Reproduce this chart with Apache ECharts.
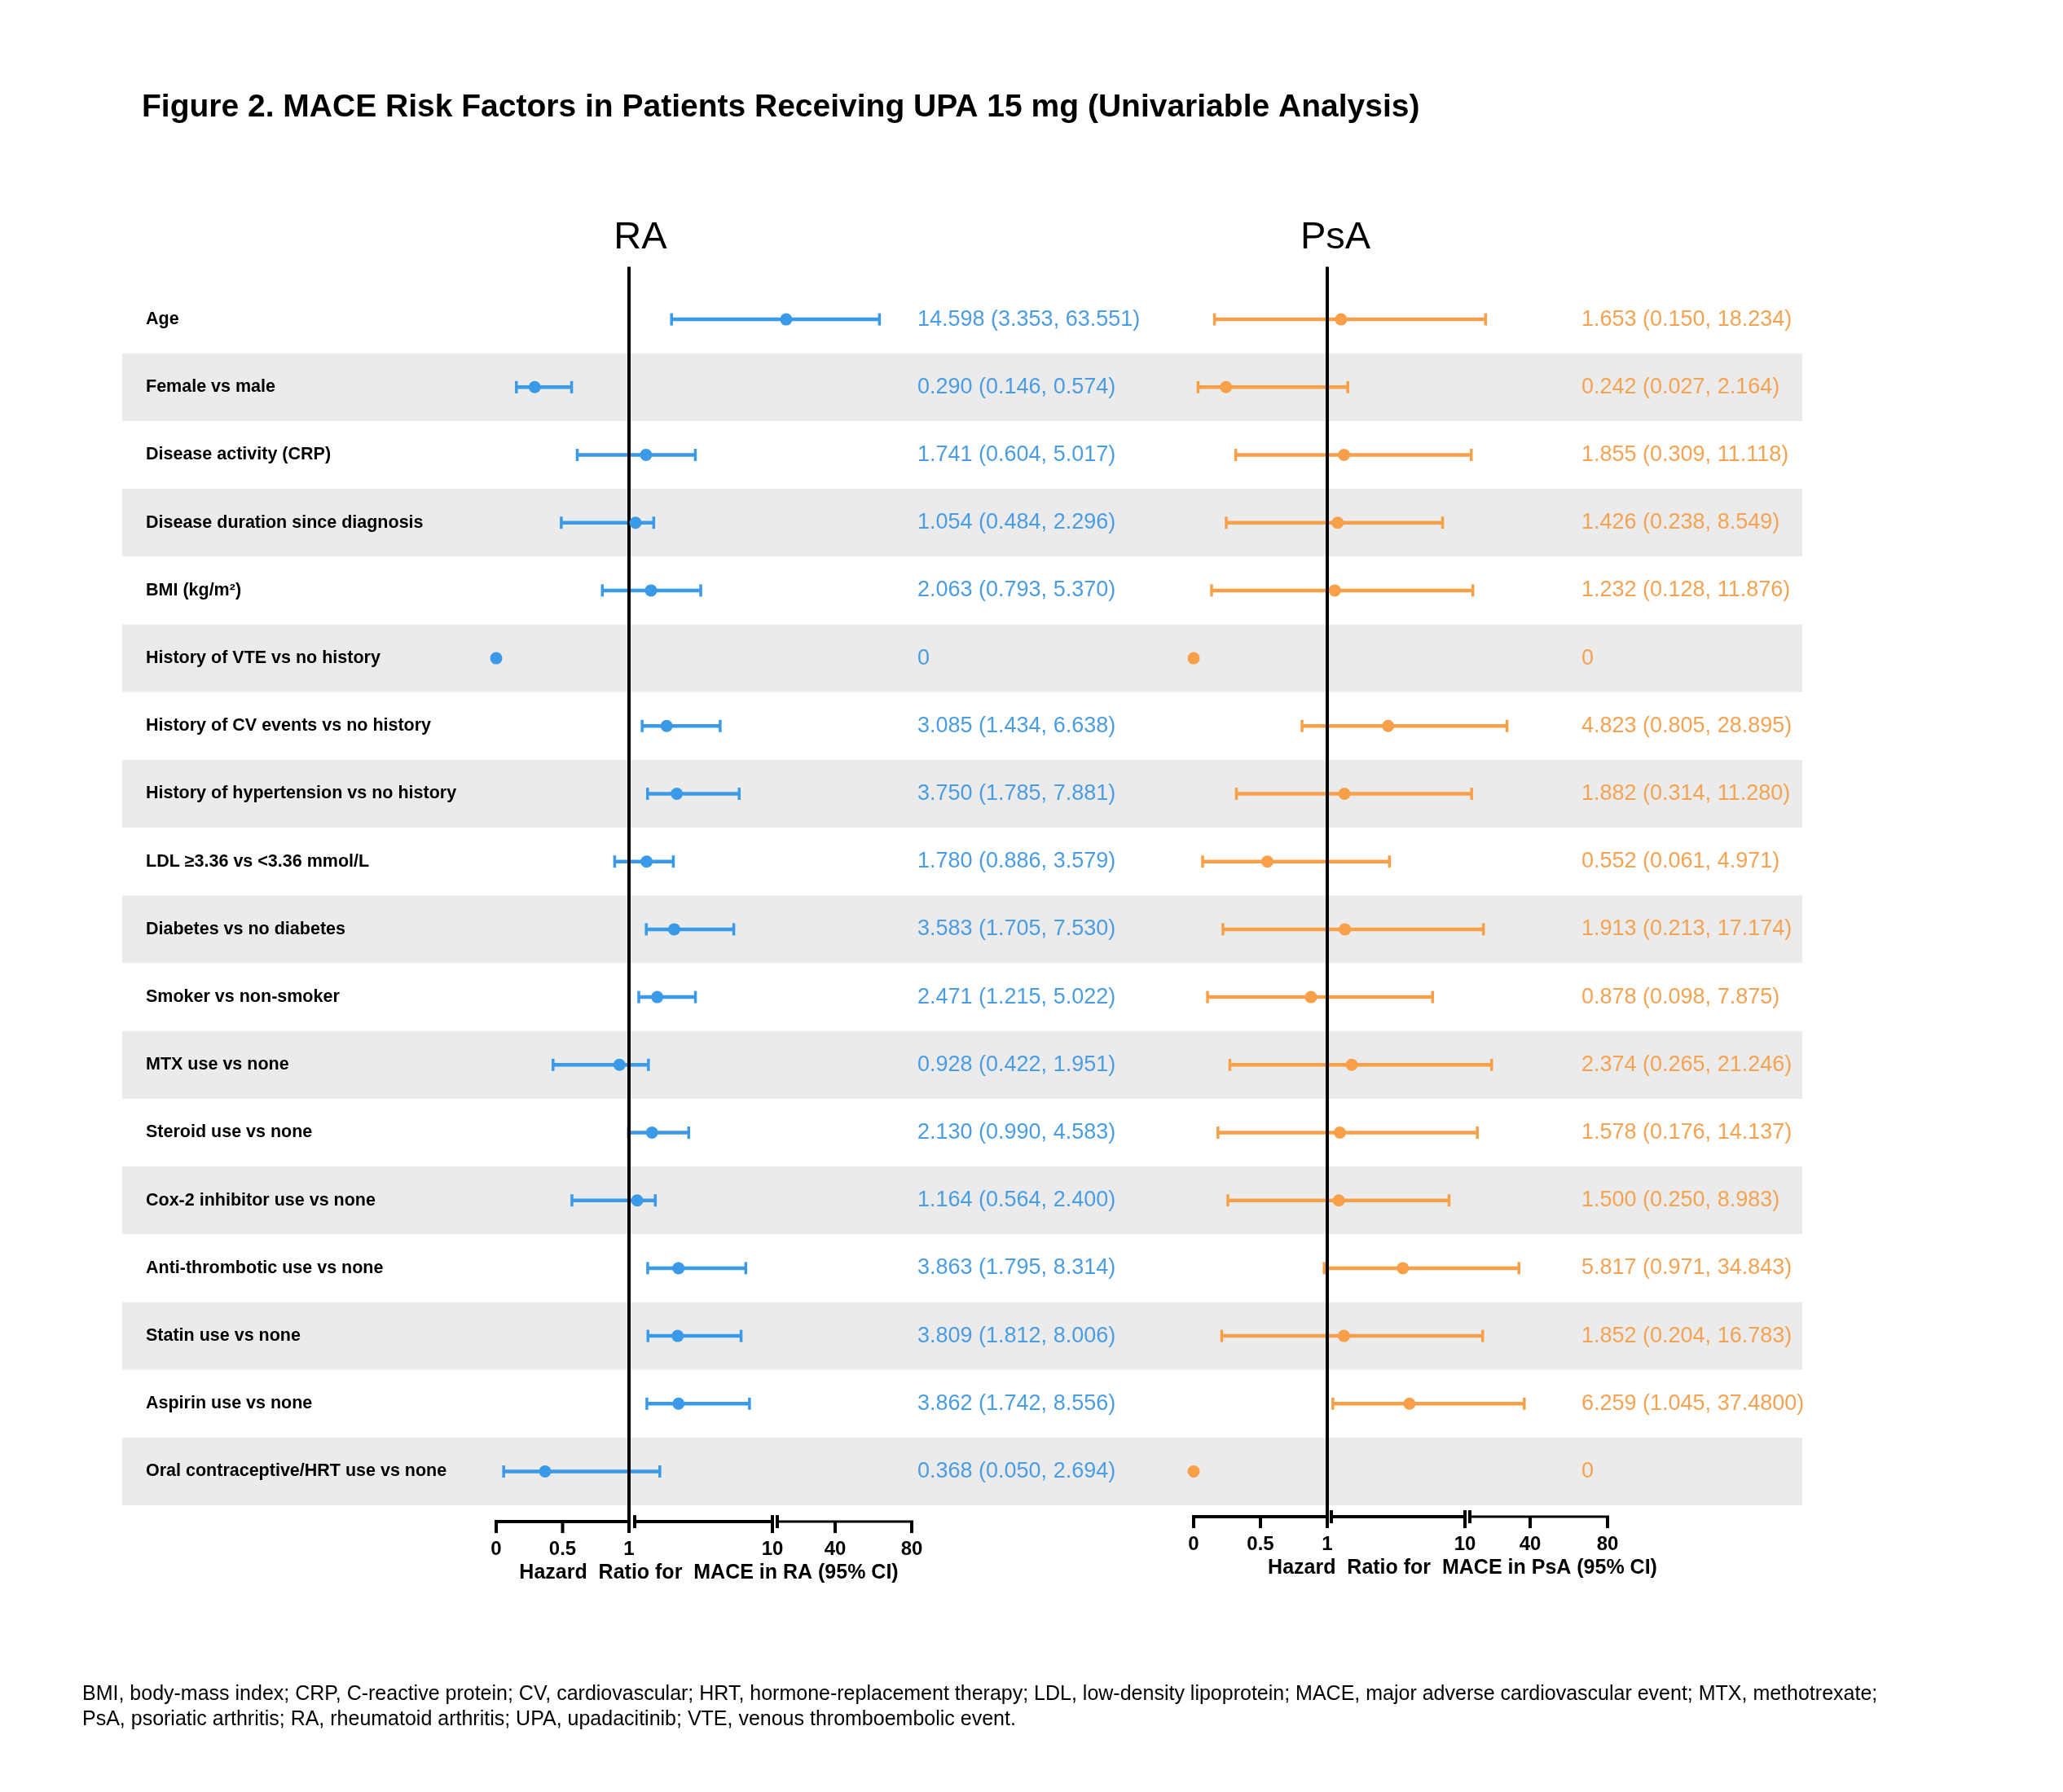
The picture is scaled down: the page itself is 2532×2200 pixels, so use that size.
<!DOCTYPE html>
<html><head><meta charset="utf-8">
<script src="https://cdn.jsdelivr.net/npm/echarts@6/dist/echarts.min.js"></script>
<style>html,body{margin:0;padding:0;background:#fff}#c{width:2532px;height:2200px}</style>
</head><body><div id="c"></div>
<script>
// ---------------- data ----------------
const rowLabels = [
  'Age', 'Female vs male', 'Disease activity (CRP)', 'Disease duration since diagnosis',
  'BMI (kg/m²)', 'History of VTE vs no history', 'History of CV events vs no history',
  'History of hypertension vs no history', 'LDL ≥3.36 vs <3.36 mmol/L', 'Diabetes vs no diabetes',
  'Smoker vs non-smoker', 'MTX use vs none', 'Steroid use vs none', 'Cox-2 inhibitor use vs none',
  'Anti-thrombotic use vs none', 'Statin use vs none', 'Aspirin use vs none',
  'Oral contraceptive/HRT use vs none'
];
const raHR   = [14.598, 0.290, 1.741, 1.054, 2.063, 0, 3.085, 3.750, 1.780, 3.583, 2.471, 0.928, 2.130, 1.164, 3.863, 3.809, 3.862, 0.368];
const raLow  = [3.353, 0.146, 0.604, 0.484, 0.793, null, 1.434, 1.785, 0.886, 1.705, 1.215, 0.422, 0.990, 0.564, 1.795, 1.812, 1.742, 0.050];
const raHigh = [63.551, 0.574, 5.017, 2.296, 5.370, null, 6.638, 7.881, 3.579, 7.530, 5.022, 1.951, 4.583, 2.400, 8.314, 8.006, 8.556, 2.694];
const psaHR   = [1.653, 0.242, 1.855, 1.426, 1.232, 0, 4.823, 1.882, 0.552, 1.913, 0.878, 2.374, 1.578, 1.500, 5.817, 1.852, 6.259, 0];
const psaLow  = [0.150, 0.027, 0.309, 0.238, 0.128, null, 0.805, 0.314, 0.061, 0.213, 0.098, 0.265, 0.176, 0.250, 0.971, 0.204, 1.045, null];
const psaHigh = [18.234, 2.164, 11.118, 8.549, 11.876, null, 28.895, 11.280, 4.971, 17.174, 7.875, 21.246, 14.137, 8.983, 34.843, 16.783, 37.480, null];
const raText = [
  '14.598 (3.353, 63.551)', '0.290 (0.146, 0.574)', '1.741 (0.604, 5.017)', '1.054 (0.484, 2.296)',
  '2.063 (0.793, 5.370)', '0', '3.085 (1.434, 6.638)', '3.750 (1.785, 7.881)', '1.780 (0.886, 3.579)',
  '3.583 (1.705, 7.530)', '2.471 (1.215, 5.022)', '0.928 (0.422, 1.951)', '2.130 (0.990, 4.583)',
  '1.164 (0.564, 2.400)', '3.863 (1.795, 8.314)', '3.809 (1.812, 8.006)', '3.862 (1.742, 8.556)',
  '0.368 (0.050, 2.694)'
];
const psaText = [
  '1.653 (0.150, 18.234)', '0.242 (0.027, 2.164)', '1.855 (0.309, 11.118)', '1.426 (0.238, 8.549)',
  '1.232 (0.128, 11.876)', '0', '4.823 (0.805, 28.895)', '1.882 (0.314, 11.280)', '0.552 (0.061, 4.971)',
  '1.913 (0.213, 17.174)', '0.878 (0.098, 7.875)', '2.374 (0.265, 21.246)', '1.578 (0.176, 14.137)',
  '1.500 (0.250, 8.983)', '5.817 (0.971, 34.843)', '1.852 (0.204, 16.783)', '6.259 (1.045, 37.4800)',
  '0'
];
const tickValues = [0, 0.5, 1, 10, 40, 80];
const tickLabels = ['0', '0.5', '1', '10', '40', '80'];
const titleText = 'Figure 2. MACE Risk Factors in Patients Receiving UPA 15 mg (Univariable Analysis)';
const footText = 'BMI, body-mass index; CRP, C-reactive protein; CV, cardiovascular; HRT, hormone-replacement therapy; LDL, low-density lipoprotein; MACE, major adverse cardiovascular event; MTX, methotrexate;\nPsA, psoriatic arthritis; RA, rheumatoid arthritis; UPA, upadacitinib; VTE, venous thromboembolic event.';

// ---------------- broken-axis scale (piecewise) ----------------
// axis units for knots: [0, 1 | 1, 10 | 10, 40, 80]
const raKnots  = [0, 163, 170, 339, 345, 416, 510];
const psaKnots = [0, 164, 169, 333, 339, 413, 508];
function T(v, k) {
  if (v <= 1) return k[0] + v * (k[1] - k[0]);
  if (v <= 10) return k[2] + (v - 1) / 9 * (k[3] - k[2]);
  if (v <= 40) return k[4] + (v - 10) / 30 * (k[5] - k[4]);
  return k[5] + (v - 40) / 40 * (k[6] - k[5]);
}

const FONT = '"Liberation Sans", Arial, Helvetica, sans-serif';
const BLUE = '#3a9ae8', BLUE_T = '#4a9de3';
const ORANGE = '#f7a049', ORANGE_T = '#f5a352';
const GRID_TOP = 350.5, ROW_H = 83.2, NROW = rowLabels.length;
const GRID_H = ROW_H * NROW;

function errorData(lo, hi, k) {
  const out = [];
  lo.forEach((l, i) => { if (l != null) out.push([T(l, k), T(hi[i], k), i]); });
  return out;
}
function pointData(hr, k) { return hr.map((v, i) => [T(v, k), i]); }

function errRender(color) {
  return function (params, api) {
    const a = api.coord([api.value(0), api.value(2)]);
    const b = api.coord([api.value(1), api.value(2)]);
    const st = { stroke: color, lineWidth: 4.5 };
    return { type: 'group', children: [
      { type: 'line', shape: { x1: a[0], y1: a[1], x2: b[0], y2: b[1] }, style: st },
      { type: 'line', shape: { x1: a[0] + 1, y1: a[1] - 7.5, x2: a[0] + 1, y2: a[1] + 7.5 }, style: { stroke: color, lineWidth: 3.5 } },
      { type: 'line', shape: { x1: b[0] - 1, y1: b[1] - 7.5, x2: b[0] - 1, y2: b[1] + 7.5 }, style: { stroke: color, lineWidth: 3.5 } }
    ]};
  };
}

function axisRender(k, yOff) {
  return function (params, api) {
    const cs = params.coordSys;
    const y0 = cs.y + cs.height + yOff;
    const X = u => api.coord([u, 0])[0];
    const L = (x1, y1, x2, y2, w) => ({ type: 'line', shape: { x1, y1, x2, y2 }, style: { stroke: '#000', lineWidth: w || 4 } });
    const ch = [
      L(X(k[0]) - 2, y0, X(k[1]), y0, 4),
      L(X(k[2]), y0, X(k[3]), y0, 4),
      L(X(k[4]), y0, X(k[6]) + 2, y0, 3),
      // break starts
      L(X(k[2]), y0 - 8, X(k[2]), y0 + 8, 4),
      L(X(k[4]), y0 - 8, X(k[4]), y0 + 8, 4),
      // end of segment 2 (10)
      L(X(k[3]), y0 - 8, X(k[3]), y0 + 14, 4),
      // reference line at 1
      L(X(k[1]), cs.y - 23, X(k[1]), y0 + 14, 4)
    ];
    [0, 0.5, 40, 80].forEach(v => { ch.push(L(X(T(v, k)), y0, X(T(v, k)), y0 + 14, 4)); });
    return { type: 'group', children: ch };
  };
}

function tickAxis(gridIndex, k, name, labelMargin, nameGap, namePadLeft) {
  const pos = tickValues.map(v => T(v, k));
  return {
    gridIndex, type: 'value', min: 0, max: k[6],
    axisLine: { show: false }, axisTick: { show: false }, splitLine: { show: false },
    axisLabel: {
      customValues: pos, margin: labelMargin, fontSize: 24, fontWeight: 'bold', color: '#000', fontFamily: FONT,
      formatter: val => { const i = pos.findIndex(p => Math.abs(p - val) < 1e-6); return i >= 0 ? tickLabels[i] : ''; }
    },
    name, nameLocation: 'middle', nameGap,
    nameTextStyle: { fontSize: 25, fontWeight: 'bold', color: '#000', fontFamily: FONT, padding: [0, 0, 0, namePadLeft] }
  };
}

const chart = echarts.init(document.getElementById('c'), null, { renderer: 'canvas' });
chart.setOption({
  backgroundColor: '#fff',
  animation: false,
  title: [
    { text: titleText, left: 169, top: 108, textStyle: { fontSize: 39, fontWeight: 'bold', color: '#000', fontFamily: FONT } },
    { text: 'RA', left: 781, top: 264, textAlign: 'center', textStyle: { fontSize: 47, fontWeight: 'normal', color: '#000', fontFamily: FONT } },
    { text: 'PsA', left: 1634, top: 264, textAlign: 'center', textStyle: { fontSize: 47, fontWeight: 'normal', color: '#000', fontFamily: FONT } },
    { text: footText, left: 96, top: 2060, textStyle: { fontSize: 25, fontWeight: 'normal', color: '#000', fontFamily: FONT, lineHeight: 31 } }
  ],
  grid: [
    { left: 150, width: 2062, top: GRID_TOP, height: GRID_H },
    { left: 609, width: raKnots[6], top: GRID_TOP, height: GRID_H },
    { left: 1465, width: psaKnots[6], top: GRID_TOP, height: GRID_H }
  ],
  xAxis: [
    { gridIndex: 0, type: 'value', show: false, min: 0, max: 1 },
    tickAxis(1, raKnots, 'Hazard  Ratio for  MACE in RA (95% CI)', 42, 67, 12),
    tickAxis(2, psaKnots, 'Hazard  Ratio for  MACE in PsA (95% CI)', 36, 60, 152)
  ],
  yAxis: [
    { gridIndex: 0, type: 'category', inverse: true, data: rowLabels, position: 'left',
      axisLine: { show: false }, axisTick: { show: false },
      splitArea: { show: true, interval: 0, areaStyle: { color: ['#ffffff', '#ebebeb'] } },
      axisLabel: { interval: 0, align: 'left', margin: -29, fontSize: 21.5, fontWeight: 'bold', color: '#000', fontFamily: FONT } },
    { gridIndex: 1, type: 'category', inverse: true, data: rowLabels, show: false },
    { gridIndex: 1, type: 'category', inverse: true, data: raText, position: 'right',
      axisLine: { show: false }, axisTick: { show: false },
      axisLabel: { interval: 0, align: 'left', margin: 7, fontSize: 27, color: BLUE_T, fontFamily: FONT } },
    { gridIndex: 2, type: 'category', inverse: true, data: rowLabels, show: false },
    { gridIndex: 2, type: 'category', inverse: true, data: psaText, position: 'right',
      axisLine: { show: false }, axisTick: { show: false },
      axisLabel: { interval: 0, align: 'left', margin: -32, fontSize: 27, color: ORANGE_T, fontFamily: FONT } }
  ],
  series: [
    { type: 'custom', xAxisIndex: 1, yAxisIndex: 1, z: 2, encode: { x: [0, 1], y: 2 },
      data: errorData(raLow, raHigh, raKnots), renderItem: errRender(BLUE) },
    { type: 'custom', xAxisIndex: 1, yAxisIndex: 1, z: 3, encode: { x: 0, y: 1 }, clip: false,
      data: [[0, 0]], renderItem: axisRender(raKnots, 20) },
    { type: 'scatter', xAxisIndex: 1, yAxisIndex: 1, z: 4, symbol: 'circle', symbolSize: 15,
      itemStyle: { color: BLUE, opacity: 1 }, data: pointData(raHR, raKnots) },
    { type: 'custom', xAxisIndex: 2, yAxisIndex: 3, z: 2, encode: { x: [0, 1], y: 2 },
      data: errorData(psaLow, psaHigh, psaKnots), renderItem: errRender(ORANGE) },
    { type: 'custom', xAxisIndex: 2, yAxisIndex: 3, z: 3, encode: { x: 0, y: 1 }, clip: false,
      data: [[0, 0]], renderItem: axisRender(psaKnots, 14) },
    { type: 'scatter', xAxisIndex: 2, yAxisIndex: 3, z: 4, symbol: 'circle', symbolSize: 15,
      itemStyle: { color: ORANGE, opacity: 1 }, data: pointData(psaHR, psaKnots) }
  ]
});
</script>
</body></html>
